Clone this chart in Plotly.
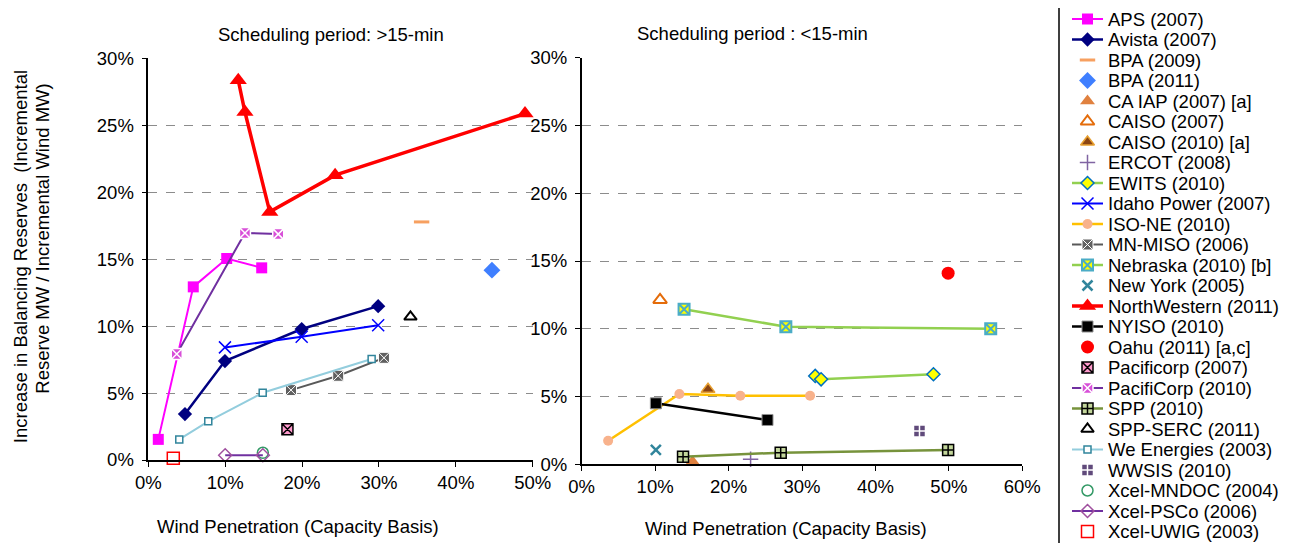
import plotly.graph_objects as go

W, H = 1294, 543
OFF = 8  # the page body has a default 8px margin, so targets are shifted back by it


def fx(px):
    return (px - OFF) / W


def fy(py):
    return (H - (py - OFF)) / H


# ---- data: left panel (scheduling period > 15 min) ----
aps_x = [0.013, 0.0585, 0.102, 0.1475]
aps_y = [0.0154, 0.1293, 0.1505, 0.1435]
avista_x = [0.0477, 0.0997, 0.1995, 0.299]
avista_y = [0.0343, 0.0739, 0.0978, 0.1149]
bpa09_x = [0.3555]
bpa09_y = [0.1778]
bpa11_x = [0.447]
bpa11_y = [0.1418]
idaho_x = [0.0997, 0.1995, 0.299]
idaho_y = [0.0841, 0.092, 0.1007]
mnmiso_x = [0.1856, 0.247, 0.3065]
mnmiso_y = [0.0522, 0.0629, 0.0763]
northwestern_x = [0.117, 0.1257, 0.158, 0.243, 0.49]
northwestern_y = [0.2836, 0.2599, 0.1853, 0.2127, 0.2587]
pacificorp07_x = [0.181]
pacificorp07_y = [0.0229]
pacificorp10_x = [0.037, 0.1257, 0.169]
pacificorp10_y = [0.0791, 0.1696, 0.1687]
sppserc_x = [0.341]
sppserc_y = [0.1069]
weenergies_x = [0.0403, 0.078, 0.1488, 0.2905]
weenergies_y = [0.0154, 0.0289, 0.0502, 0.0754]
mndoc_x = [0.149]
mndoc_y = [0.0054]
psco_x = [0.1, 0.149]
psco_y = [0.0035, 0.0035]
uwig_x = [0.0325]
uwig_y = [0.0013]

# ---- data: right panel (scheduling period < 15 min) ----
caiap_x = [0.151]
caiap_y = [0.0019]
caiso07_x = [0.1067]
caiso07_y = [0.1213]
caiso10_x = [0.172]
caiso10_y = [0.0553]
ercot_x = [0.23]
ercot_y = [0.0037]
ewits_x = [0.318, 0.326, 0.479]
ewits_y = [0.0652, 0.0627, 0.0664]
isone_x = [0.036, 0.133, 0.216, 0.311]
isone_y = [0.0174, 0.0519, 0.0506, 0.0506]
nebraska_x = [0.1394, 0.278, 0.557]
nebraska_y = [0.1144, 0.1015, 0.10]
newyork_x = [0.101]
newyork_y = [0.0106]
nyiso_x = [0.101, 0.253]
nyiso_y = [0.045, 0.0327]
oahu_x = [0.499]
oahu_y = [0.141]
spp_x = [0.138, 0.271, 0.499]
spp_y = [0.0056, 0.0086, 0.0106]
wwsis_x = [0.46]
wwsis_y = [0.0246]

# name, x, y, panel, line colour (None = markers only), line width, marker dict
series = [
    ("APS (2007)", aps_x, aps_y, 1, "#FF00FF", 2, dict(symbol="square", size=11, color="#FF00FF")),
    ("Avista (2007)", avista_x, avista_y, 1, "#000080", 2.5, dict(symbol="diamond", size=11, color="#000080")),
    ("BPA (2009)", bpa09_x, bpa09_y, 1, None, 0, dict(symbol="line-ew-open", size=11, color="#F7A060", line=dict(width=3, color="#F7A060"))),
    ("BPA (2011)", bpa11_x, bpa11_y, 1, None, 0, dict(symbol="diamond", size=13, color="#3F7FFF")),
    ("CA IAP (2007) [a]", caiap_x, caiap_y, 2, None, 0, dict(symbol="triangle-up", size=13, color="#E0813F")),
    ("CAISO (2007)", caiso07_x, caiso07_y, 2, None, 0, dict(symbol="triangle-up-open", size=12, color="#E46C0A", line=dict(width=2, color="#E46C0A"))),
    ("CAISO (2010) [a]", caiso10_x, caiso10_y, 2, None, 0, dict(symbol="triangle-up", size=12, color="#8B4513", line=dict(width=1.5, color="#E8A030"))),
    ("ERCOT (2008)", ercot_x, ercot_y, 2, None, 0, dict(symbol="cross-thin-open", size=11, color="#8064A2", line=dict(width=1.5, color="#8064A2"))),
    ("EWITS (2010)", ewits_x, ewits_y, 2, "#92D050", 2.5, dict(symbol="diamond", size=10, color="#FFFF00", line=dict(width=1.5, color="#0070C0"))),
    ("Idaho Power (2007)", idaho_x, idaho_y, 1, "#0000FF", 2, dict(symbol="x-thin-open", size=12, color="#0000FF", line=dict(width=1.5, color="#0000FF"))),
    ("ISO-NE (2010)", isone_x, isone_y, 2, "#FFC000", 2.5, dict(symbol="circle", size=10, color="#F8B28C")),
    ("MN-MISO (2006)", mnmiso_x, mnmiso_y, 1, "#595959", 2, dict(symbol="square-x", size=11, color="#606060", line=dict(width=1, color="#FFFFFF"))),
    ("Nebraska (2010) [b]", nebraska_x, nebraska_y, 2, "#92D050", 2.5, dict(symbol="square-x", size=11, color="#FFFF00", line=dict(width=2, color="#4BACC6"))),
    ("New York (2005)", newyork_x, newyork_y, 2, None, 0, dict(symbol="x-thin-open", size=10, color="#31859C", line=dict(width=2.5, color="#31859C"))),
    ("NorthWestern (2011)", northwestern_x, northwestern_y, 1, "#FF0000", 3.5, dict(symbol="triangle-up", size=15, color="#FF0000")),
    ("NYISO (2010)", nyiso_x, nyiso_y, 2, "#000000", 2.5, dict(symbol="square", size=11, color="#000000", line=dict(width=1, color="#909090"))),
    ("Oahu (2011) [a,c]", oahu_x, oahu_y, 2, None, 0, dict(symbol="circle", size=13, color="#FF0000")),
    ("Pacificorp (2007)", pacificorp07_x, pacificorp07_y, 1, None, 0, dict(symbol="square-x", size=11, color="#FF99CC", line=dict(width=1.5, color="#000000"))),
    ("PacifiCorp (2010)", pacificorp10_x, pacificorp10_y, 1, "#7030A0", 2, dict(symbol="square-x", size=11, color="#D84FD8", line=dict(width=1.5, color="#FFFFFF"))),
    ("SPP (2010)", spp_x, spp_y, 2, "#77933C", 2.5, dict(symbol="square-cross", size=11, color="#C3D69B", line=dict(width=1.5, color="#000000"))),
    ("SPP-SERC (2011)", sppserc_x, sppserc_y, 1, None, 0, dict(symbol="triangle-up-open", size=11, color="#000000", line=dict(width=2, color="#000000"))),
    ("We Energies (2003)", weenergies_x, weenergies_y, 1, "#93CDDD", 2, dict(symbol="square", size=7, color="#FFFFFF", line=dict(width=1.5, color="#31859C"))),
    ("WWSIS (2010)", wwsis_x, wwsis_y, 2, None, 0, dict(symbol="square-cross", size=12, color="#604A7B", line=dict(width=1.5, color="#FFFFFF"))),
    ("Xcel-MNDOC (2004)", mndoc_x, mndoc_y, 1, None, 0, dict(symbol="circle-open", size=11, color="#339966", line=dict(width=1.5, color="#339966"))),
    ("Xcel-PSCo (2006)", psco_x, psco_y, 1, "#7030A0", 2, dict(symbol="diamond-open", size=10, color="#A0509F", line=dict(width=1.5, color="#A0509F"))),
    ("Xcel-UWIG (2003)", uwig_x, uwig_y, 1, None, 0, dict(symbol="square-open", size=12, color="#FF0000", line=dict(width=1.5, color="#FF0000"))),
]

FONT = "Liberation Sans, Arial, sans-serif"

fig = go.Figure()

for name, xs, ys, panel, lcolor, lwidth, marker in series:
    axes = dict(xaxis="x", yaxis="y") if panel == 1 else dict(xaxis="x2", yaxis="y2")
    fig.add_trace(go.Scatter(
        x=xs, y=ys, name=name, showlegend=False,
        mode="lines+markers" if lcolor else "markers",
        line=dict(color=lcolor, width=lwidth) if lcolor else None,
        marker=marker, cliponaxis=False, **axes
    ))

# hand-built legend (Excel style, tight rows) on its own small axis
ROW0, ROWSTEP = 19, 20.5   # page y of first row, row pitch
for i, (name, xs, ys, panel, lcolor, lwidth, marker) in enumerate(series):
    if lcolor:
        fig.add_trace(go.Scatter(x=[0, 1], y=[i, i], mode="lines", showlegend=False,
                                 line=dict(color=lcolor, width=lwidth), xaxis="x3", yaxis="y3",
                                 hoverinfo="skip", cliponaxis=False))
    fig.add_trace(go.Scatter(x=[0.5], y=[i], mode="markers", showlegend=False, marker=marker,
                             xaxis="x3", yaxis="y3", hoverinfo="skip", cliponaxis=False))
    fig.add_annotation(text=name, x=fx(1106), xref="paper", y=i, yref="y3",
                       xanchor="left", yanchor="middle", showarrow=False,
                       font=dict(size=18.5, color="black", family=FONT))

row_top = (OFF - ROW0) / ROWSTEP
row_bottom = (OFF + H - ROW0) / ROWSTEP

axis_common = dict(
    showline=True, linecolor="black", linewidth=1.5, ticks="outside", ticklen=5,
    tickcolor="black", tickfont=dict(size=18.5, color="black", family=FONT),
    tickformat=".0%", zeroline=False, mirror=False, automargin=False,
)
yaxis_common = dict(axis_common, range=[0, 0.3], dtick=0.05, showgrid=True,
                    gridcolor="#8C8C8C", griddash="dash", gridwidth=1, ticklabelstandoff=4)
xaxis_common = dict(axis_common, dtick=0.1, showgrid=False, ticklabelstandoff=0)

fig.update_layout(
    width=W, height=H,
    margin=dict(l=0, r=0, t=0, b=0, autoexpand=False),
    paper_bgcolor="white", plot_bgcolor="white",
    font=dict(family=FONT, size=18.5, color="black"),
    showlegend=False,
    xaxis=dict(xaxis_common, domain=[fx(148.3), fx(532.7)], range=[0, 0.5]),
    yaxis=dict(yaxis_common, domain=[fy(460), fy(58.3)]),
    xaxis2=dict(xaxis_common, domain=[fx(581.7), fx(1022.3)], range=[0, 0.6]),
    yaxis2=dict(yaxis_common, domain=[fy(464.3), fy(57.7)], anchor="x2"),
    xaxis3=dict(domain=[fx(1072), fx(1103)], range=[0, 1], visible=False),
    yaxis3=dict(domain=[0, 1], range=[row_bottom, row_top], visible=False, anchor="x3"),
    shapes=[dict(type="rect", xref="paper", yref="paper", x0=fx(1059), x1=1.02,
                 y0=-0.05, y1=fy(6), line=dict(color="black", width=1.5))],
)
fig.update_layout(xaxis2_anchor="y2", xaxis3_anchor="y3")

texts = [
    ("Scheduling period: >15-min", 331, 35, 0),
    ("Scheduling period : <15-min", 753, 34, 0),
    ("Wind Penetration (Capacity Basis)", 298, 526, 0),
    ("Wind Penetration (Capacity Basis)", 786, 528, 0),
    ("Increase in Balancing Reserves  (Incremental", 20.7, 256.5, -90),
    ("Reserve MW / Incremental Wind MW)", 41.7, 239, -90),
]
for t, px, py, ang in texts:
    fig.add_annotation(text=t, x=fx(px), y=fy(py), xref="paper", yref="paper",
                       xanchor="center", yanchor="middle", showarrow=False, textangle=ang,
                       font=dict(size=18.5, color="black", family=FONT))

fig.write_html("out.html")
